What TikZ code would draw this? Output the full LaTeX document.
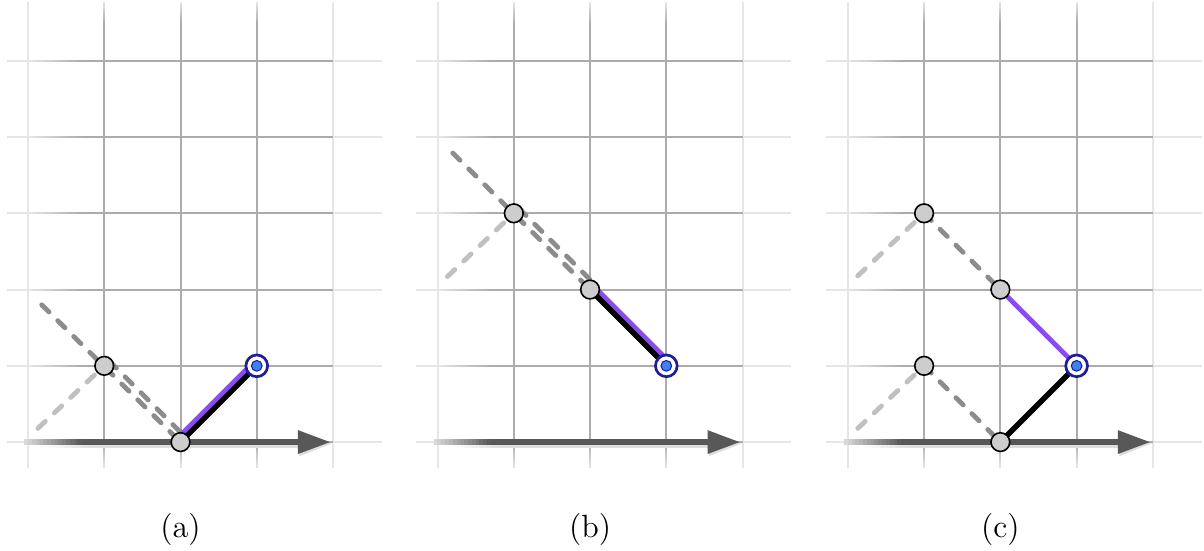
\documentclass[tikz,border=0pt]{standalone}
\usetikzlibrary{calc}
\definecolor{gridD}{RGB}{172,172,172}
\definecolor{gridL}{RGB}{230,230,230}
\definecolor{axisC}{RGB}{88,88,88}
\definecolor{axisL}{RGB}{220,220,220}
\definecolor{shadowC}{RGB}{222,222,222}
\definecolor{dashD}{RGB}{140,140,140}
\definecolor{dashL}{RGB}{192,192,192}
\definecolor{jointC}{RGB}{205,205,205}
\definecolor{navyC}{RGB}{30,30,150}
\definecolor{dotC}{RGB}{60,130,240}
\definecolor{purpC}{RGB}{140,75,240}
\pgfdeclarelayer{gridlayer}
\pgfdeclarelayer{linelayer}
\pgfsetlayers{gridlayer,linelayer,main}
\tikzset{
 joint/.style={circle,draw=black,fill=jointC,line width=0.6pt,minimum size=0.245cm,inner sep=0pt},
 target/.style={circle,draw=navyC,fill=white,line width=1pt,minimum size=0.285cm,inner sep=0pt},
 targetdot/.style={circle,draw=navyC,fill=dotC,line width=0.4pt,minimum size=0.14cm,inner sep=0pt},
 bone/.style={line width=2pt,draw=black},
 purpbone/.style={line width=1.8pt,draw=purpC},
 ghost/.style={line width=1.8pt,draw=dashD,dash pattern=on 3.8pt off 4.6pt,line cap=round},
 ghostlight/.style={ghost,draw=dashL},
 caption/.style={font=\fontsize{12}{14}\selectfont}
}
\newcommand\drawpanelgrid{%
 \begin{pgfonlayer}{gridlayer}
 \foreach \i in {0,4}{
   \fill[gridL] (\i-0.013,-0.34) rectangle (\i+0.013,5.77);
 }
 \foreach \i in {1,2,3}{
   \fill[gridD] (\i-0.013,0) rectangle (\i+0.013,5.5);
   \foreach \k in {0,...,9}{
     \pgfmathtruncatemacro\pp{100-10*\k-5}
     \fill[gridD!\pp!gridL] (\i-0.013,-0.034*\k-0.036) rectangle (\i+0.013,-0.034*\k+0.001);
     \fill[gridD!\pp!gridL] (\i-0.013,5.5+0.027*\k-0.001) rectangle (\i+0.013,5.5+0.027*\k+0.028);
   }
 }
 \foreach \j in {0,...,5}{
   \fill[gridL] (-0.28,\j-0.013) rectangle (0,\j+0.013);
   \foreach \k in {0,...,11}{
     \pgfmathtruncatemacro\pp{100*\k/12+4}
     \fill[gridD!\pp!gridL] (0.06*\k-0.001,\j-0.013) rectangle (0.06*\k+0.061,\j+0.013);
   }
   \fill[gridD] (0.72,\j-0.013) rectangle (4,\j+0.013);
   \fill[gridL] (4,\j-0.013) rectangle (4.64,\j+0.013);
 }
 \foreach \k in {0,...,9}{
   \pgfmathtruncatemacro\pp{10*\k+5}
   \fill[shadowC!\pp!white] (0.2+0.06*\k-0.001,-0.075) rectangle (0.2+0.06*\k+0.061,-0.035);
 }
 \fill[shadowC] (0.8,-0.075) rectangle (3.55,-0.035);
 \foreach \k in {0,...,14}{
   \pgfmathtruncatemacro\pp{100*\k/15+3}
   \fill[axisC!\pp!axisL] (-0.05+0.05*\k-0.001,-0.042) rectangle (-0.05+0.05*\k+0.051,0.042);
 }
 \fill[axisC] (0.7,-0.042) rectangle (3.56,0.042);
 \fill[shadowC] (3.56,0.13) -- (3.98,-0.02) -- (3.56,-0.185) -- cycle;
 \fill[axisC] (3.54,0.157) -- (3.96,0) -- (3.54,-0.157) -- cycle;
 \end{pgfonlayer}
}
\begin{document}
\begin{tikzpicture}
\useasboundingbox (-0.367,-1.416) rectangle (15.42,5.797);
% ---------- panel (a)
\begin{scope}
\drawpanelgrid
\node[joint] (a1) at (1,1) {};
\node[joint] (a2) at (2,0) {};
\node[target] (at) at (3,1) {};
\node[targetdot] (atd) at (at) {};
\coordinate (aL) at (0.13,0.18);
\coordinate (aF) at (0.18,1.80);
\begin{pgfonlayer}{linelayer}
\draw[ghostlight] (aL) -- (a1.center);
\draw[ghost] (aF) -- (a2.center);
\draw[ghost] ([shift={(0.065,0.065)}]a1.center) -- ([shift={(0.065,0.065)}]a2.center);
\draw[purpbone] ([shift={(-0.045,0.045)}]a2.center) -- ([shift={(-0.045,0.045)}]at.center);
\draw[bone] (a2.center) -- (at.center);
\end{pgfonlayer}
\node[caption] (capa) at (2,-1.15) {(a)};
\end{scope}
% ---------- panel (b)
\begin{scope}[shift={(5.37,0)}]
\drawpanelgrid
\node[joint] (b1) at (1,3) {};
\node[joint] (b2) at (2,2) {};
\node[target] (bt) at (3,1) {};
\node[targetdot] (btd) at (bt) {};
\coordinate (bL) at (0.13,2.17);
\coordinate (bF) at (0.2,3.79);
\begin{pgfonlayer}{linelayer}
\draw[ghostlight] (bL) -- (b1.center);
\draw[ghost] (bF) -- (b2.center);
\draw[ghost] ([shift={(0.065,0.065)}]b1.center) -- ([shift={(0.065,0.065)}]b2.center);
\draw[purpbone] ([shift={(0.045,0.045)}]b2.center) -- ([shift={(0.045,0.045)}]bt.center);
\draw[bone] (b2.center) -- (bt.center);
\end{pgfonlayer}
\node[caption] (capb) at (2,-1.15) {(b)};
\end{scope}
% ---------- panel (c)
\begin{scope}[shift={(10.75,0)}]
\drawpanelgrid
\node[joint] (c1) at (1,3) {};
\node[joint] (c2) at (2,2) {};
\node[joint] (c3) at (1,1) {};
\node[joint] (c4) at (2,0) {};
\node[target] (ct) at (3,1) {};
\node[targetdot] (ctd) at (ct) {};
\coordinate (cL1) at (0.13,2.18);
\coordinate (cL2) at (0.13,0.18);
\begin{pgfonlayer}{linelayer}
\draw[ghostlight] (cL1) -- (c1.center);
\draw[ghostlight] (cL2) -- (c3.center);
\draw[ghost] (c1.center) -- (c2.center);
\draw[ghost] (c3.center) -- (c4.center);
\draw[purpbone] (c2.center) -- (ct.center);
\draw[bone] (c4.center) -- (ct.center);
\end{pgfonlayer}
\node[caption] (capc) at (2,-1.15) {(c)};
\end{scope}
\end{tikzpicture}
\end{document}
